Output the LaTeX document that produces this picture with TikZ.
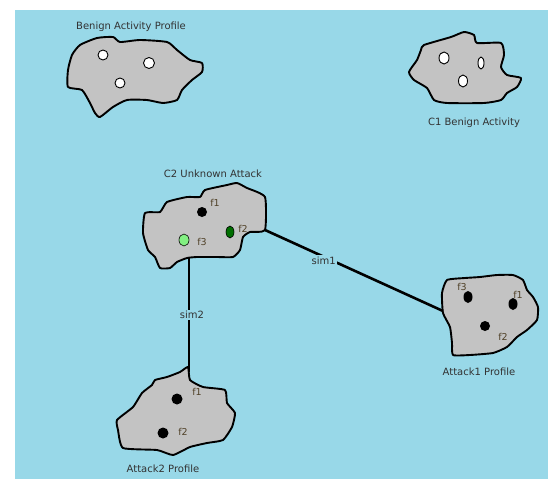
\documentclass[tikz,border=0pt]{standalone}
\usepackage{fontspec}
\setmainfont{DejaVu Sans}
\usetikzlibrary{shapes.geometric}
\begin{document}
\begin{tikzpicture}[x=1pt,y=-1pt,
  blob/.style={draw=black,line width=1.9pt,fill=blobgray,line join=round},
  title/.style={text=txtgray,font=\fontsize{10}{12}\selectfont,inner sep=0pt},
  flab/.style={text=flabc,font=\fontsize{9.5}{11}\selectfont,inner sep=0pt},
  wdot/.style={draw=black,line width=0.9pt,fill=white},
  bdot/.style={fill=black},
  link/.style={line width=2.6pt,draw=black},
  simlab/.style={fill=bgblue,inner sep=1.5pt,text=txtgray,font=\fontsize{10}{12}\selectfont}]
\definecolor{bgblue}{RGB}{152,216,232}
\definecolor{blobgray}{RGB}{195,195,195}
\definecolor{txtgray}{RGB}{50,50,50}
\definecolor{flabc}{RGB}{80,65,40}
\definecolor{dgreen}{RGB}{0,110,0}
\definecolor{lgreen}{RGB}{130,240,130}
\useasboundingbox (0,0) rectangle (548,479);
\fill[white] (0,0) rectangle (548,479);
\fill[bgblue] (15,10) rectangle (548,479);

% Benign Activity Profile
\draw[blob] plot[smooth cycle,tension=0.35] coordinates {
 (72,55) (80,45) (97,38) (113,37) (120,42) (140,40) (167,42) (177,50) (190,60)
 (202,63) (202,72) (192,80) (182,90) (177,100) (163,103) (147,100) (127,100)
 (113,107) (100,117) (95,113) (90,103) (82,90) (68,87) (68,70)};
\node[wdot,circle,minimum size=10pt,inner sep=0pt] (b1) at (103,55) {};
\node[wdot,circle,minimum size=11pt,inner sep=0pt] (b2) at (149,63) {};
\node[wdot,circle,minimum size=10pt,inner sep=0pt] (b3) at (120,83) {};
\node[title] (tbenign) at (131,27) {Benign Activity Profile};

% C1 Benign Activity
\draw[blob] plot[smooth cycle,tension=0.35] coordinates {
 (424,45) (451,37) (464,32) (474,35) (477,43) (501,43) (504,55) (501,67)
 (507,75) (521,78) (517,87) (507,93) (501,100) (484,103) (447,103) (434,100)
 (427,88) (414,80) (409,72) (417,60) (421,50)};
\node[wdot,ellipse,minimum width=10pt,minimum height=12pt,inner sep=0pt] (c1a) at (444,58) {};
\node[wdot,ellipse,minimum width=6pt,minimum height=12pt,inner sep=0pt] (c1b) at (481,63) {};
\node[wdot,ellipse,minimum width=9pt,minimum height=12pt,inner sep=0pt] (c1c) at (463,81) {};
\node[title] (tc1) at (474,123) {C1 Benign Activity};

% C2 Unknown Attack
\draw[blob] plot[smooth cycle,tension=0.3] coordinates {
 (145,213) (160,212) (167,202) (187,197) (200,197) (205,190) (227,185) (237,183)
 (247,188) (265,197) (265,230) (250,232) (243,237) (240,250) (233,257) (217,257)
 (197,257) (187,258) (177,262) (170,268) (160,268) (155,257) (148,250) (143,233)};
\node[bdot,circle,minimum size=10pt,inner sep=0pt] (c2f1) at (202,212) {};
\node[draw=black,line width=0.6pt,fill=dgreen,ellipse,minimum width=8pt,minimum height=12pt,inner sep=0pt] (c2f2) at (230,232) {};
\node[draw=black,line width=0.6pt,fill=lgreen,ellipse,minimum width=10pt,minimum height=12pt,inner sep=0pt] (c2f3) at (184,240) {};
\node[flab] (lc2f1) at (215,203) {f1};
\node[flab] (lc2f2) at (243,229) {f2};
\node[flab] (lc2f3) at (202,242) {f3};
\node[title] (tc2) at (213,174) {C2 Unknown Attack};
\coordinate (c2right) at (265,230);
\coordinate (c2bottom) at (189,258);

% Attack1 Profile
\draw[blob] plot[smooth cycle,tension=0.3] coordinates {
 (447,280) (465,278) (480,277) (497,275) (513,275) (523,280) (527,290) (533,297)
 (538,307) (537,320) (527,330) (517,337) (507,347) (493,353) (470,355) (453,355)
 (452,343) (450,327) (443,313) (442,293)};
\node[bdot,ellipse,minimum width=9pt,minimum height=12pt,inner sep=0pt] (a1f3) at (468,297) {};
\node[bdot,ellipse,minimum width=9pt,minimum height=12pt,inner sep=0pt] (a1f1) at (513,304) {};
\node[bdot,circle,minimum size=10pt,inner sep=0pt] (a1f2) at (485,326) {};
\node[flab] (la1f3) at (462,287) {f3};
\node[flab] (la1f1) at (518,295) {f1};
\node[flab] (la1f2) at (503,337) {f2};
\node[title] (ta1) at (479,372) {Attack1 Profile};
\coordinate (a1left) at (443,311);

% Attack2 Profile
\draw[blob] plot[smooth cycle,tension=0.3] coordinates {
 (155,380) (167,377) (180,372) (188,367) (190,380) (203,387) (225,390) (227,403)
 (235,413) (232,427) (223,440) (207,443) (190,447) (173,455) (157,450) (123,448)
 (118,430) (117,420) (133,407) (142,393) (152,385)};
\node[bdot,circle,minimum size=11pt,inner sep=0pt] (a2f1) at (177,399) {};
\node[bdot,circle,minimum size=11pt,inner sep=0pt] (a2f2) at (163,433) {};
\node[flab] (la2f1) at (197,392) {f1};
\node[flab] (la2f2) at (183,432) {f2};
\node[title] (ta2) at (163,469) {Attack2 Profile};
\coordinate (a2top) at (189,372);

% connectors
\draw[link] (c2right) -- node[simlab,pos=0.33,yshift=-4pt] (sim1) {sim1} (a1left);
\draw[link] (c2bottom) -- node[simlab,pos=0.5,xshift=3pt] (sim2) {sim2} (a2top);
\end{tikzpicture}
\end{document}
